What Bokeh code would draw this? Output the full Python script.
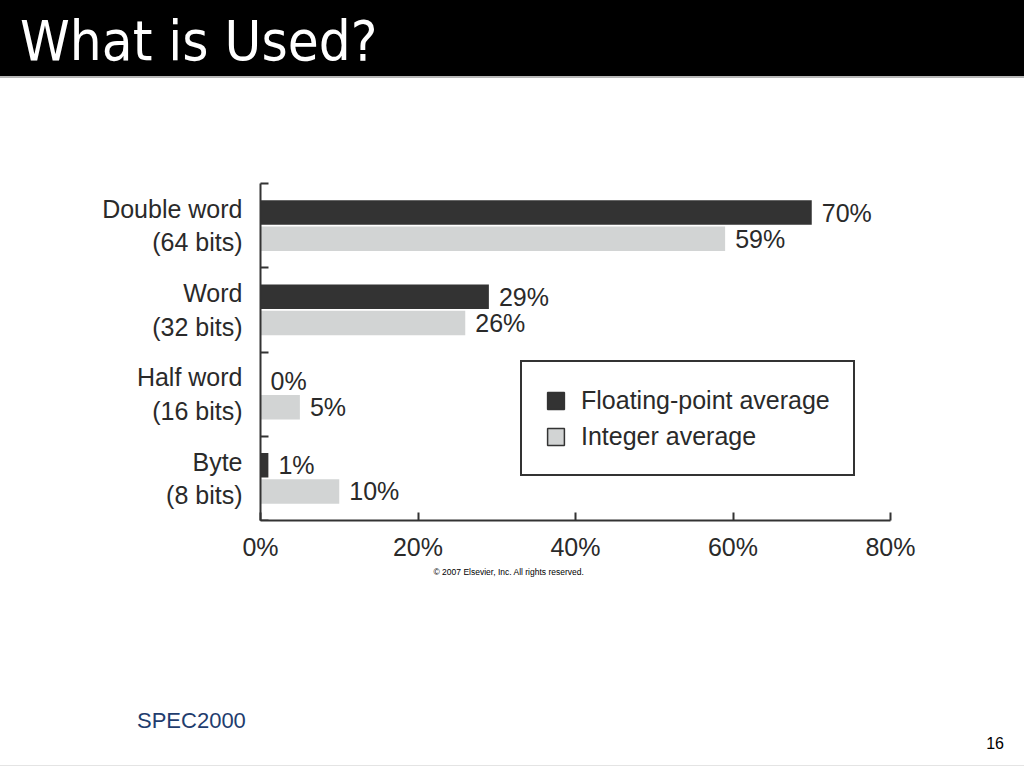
from bokeh.plotting import figure
from bokeh.layouts import column
from bokeh.models import (ColumnDataSource, FixedTicker, Legend, LegendItem, Range1d, Title, Div)
from bokeh.embed import file_html
from bokeh.resources import INLINE

# ---- data ----
categories = ["Double word\n(64 bits)", "Word\n(32 bits)", "Half word\n(16 bits)", "Byte\n(8 bits)"]
fp_values = [70, 29, 0, 1]
int_values = [59, 26, 5, 10]
x_ticks = [0, 20, 40, 60, 80]
x_tick_labels = ["0%", "20%", "40%", "60%", "80%"]
series_names = ["Floating-point average", "Integer average"]

DARK = "#333333"
LIGHT = "#d2d4d4"
TEXT = "#2a2a2a"
FONT = "Liberation Sans"
FS = "25px"

n = len(categories)
centers = [n - 0.5 - i for i in range(n)]
off = 0.155
bar_h = 0.29

fp_src = ColumnDataSource(dict(y=[c + off for c in centers], v=fp_values,
                               lab=[f"{v}%" for v in fp_values]))
int_src = ColumnDataSource(dict(y=[c - off for c in centers], v=int_values,
                                lab=[f"{v}%" for v in int_values]))

# ---- title bar ----
title_div = Div(text="What is Used?", width=1024, height=78, margin=0,
                styles={"background-color": "black", "color": "white",
                        "font-family": "'DejaVu Sans Condensed', 'DejaVu Sans', sans-serif",
                        "font-size": "56px", "line-height": "76px",
                        "padding-left": "20px", "padding-top": "3px",
                        "box-sizing": "border-box",
                        "border-bottom": "2px solid #b8b8b8"})

# ---- chart ----
p = figure(width=1024, height=522, output_backend="svg", toolbar_location=None,
           x_range=Range1d(0, 80), y_range=Range1d(0, n), margin=0,
           min_border_left=260, min_border_right=134, min_border_top=105, min_border_bottom=80,
           outline_line_color=None, background_fill_color="white", border_fill_color="white")
p.grid.visible = False

r_fp = p.hbar(y="y", right="v", left=0, height=bar_h, source=fp_src,
              fill_color=DARK, line_color=None)
r_int = p.hbar(y="y", right="v", left=0, height=bar_h, source=int_src,
               fill_color=LIGHT, line_color=None)

for src in (fp_src, int_src):
    p.text(x="v", y="y", text="lab", source=src, x_offset=10, text_baseline="middle",
           text_align="left", text_color=TEXT, text_font_size=FS,
           text_font={"value": FONT})

# legend swatches (outlined), drawn off-range so only the legend shows them
l_fp = p.hbar(y=[-5], right=[1], left=[0], height=0.1, fill_color=DARK, line_color=DARK, line_width=1.5)
l_int = p.hbar(y=[-5], right=[1], left=[0], height=0.1, fill_color=LIGHT, line_color=DARK, line_width=1.5)
legend = Legend(items=[LegendItem(label=series_names[0], renderers=[l_fp]),
                       LegendItem(label=series_names[1], renderers=[l_int])],
                location=(260, 44), orientation="vertical",
                border_line_color=DARK, border_line_width=2, border_line_alpha=1.0,
                padding=23, margin=0, spacing=6,
                glyph_width=21, glyph_height=21, label_standoff=15,
                label_text_font=FONT, label_text_font_size=FS, label_text_color=TEXT,
                label_height=30, background_fill_alpha=1.0)
p.add_layout(legend, "center")

# x axis
xa = p.xaxis[0]
xa.ticker = FixedTicker(ticks=x_ticks)
xa.major_label_overrides = {t: l for t, l in zip(x_ticks, x_tick_labels)}
xa.major_tick_in = 8
xa.major_tick_out = 0
xa.minor_tick_line_color = None
xa.axis_line_width = 2
xa.axis_line_color = DARK
xa.major_tick_line_color = DARK
xa.major_tick_line_width = 2
xa.major_label_text_font = FONT
xa.major_label_text_font_size = FS
xa.major_label_text_color = TEXT
xa.major_label_standoff = 12

# y axis
ya = p.yaxis[0]
ya.ticker = FixedTicker(ticks=centers, minor_ticks=[1, 2, 3, 4])
ya.major_label_overrides = {c: lab for c, lab in zip(centers, categories)}
ya.major_tick_line_color = None
ya.minor_tick_in = 8
ya.minor_tick_out = 0
ya.minor_tick_line_color = DARK
ya.minor_tick_line_width = 2
ya.axis_line_width = 2
ya.axis_line_color = DARK
ya.major_label_text_font = FONT
ya.major_label_text_font_size = FS
ya.major_label_text_color = TEXT
ya.major_label_text_align = "right"
ya.major_label_standoff = 12

# copyright below the axis
p.add_layout(Title(text="\u00a9 2007 Elsevier, Inc. All rights reserved.", align="left", offset=173,
                   text_font=FONT, text_font_size="8.5px", text_color="black",
                   text_font_style="normal", standoff=2), "below")

# ---- footer ----
footer_html = (
    '<div style="position:relative;width:1024px;height:168px;font-family:\'Liberation Sans\',Arial,sans-serif;">'
    '<span style="position:absolute;left:137px;top:110px;font-size:22px;line-height:22px;color:#1f3d6e;">SPEC2000</span>'
    '<span style="position:absolute;right:20px;top:136px;font-size:16px;line-height:16px;color:black;">16</span>'
    '<div style="position:absolute;left:0;top:165px;width:1024px;height:0;border-top:1px solid #e4e4e4;"></div>'
    '</div>'
)
footer_div = Div(text=footer_html, width=1024, height=168, margin=0)

layout = column(title_div, p, footer_div, spacing=0)
open("out.html", "w").write(file_html(layout, INLINE))
